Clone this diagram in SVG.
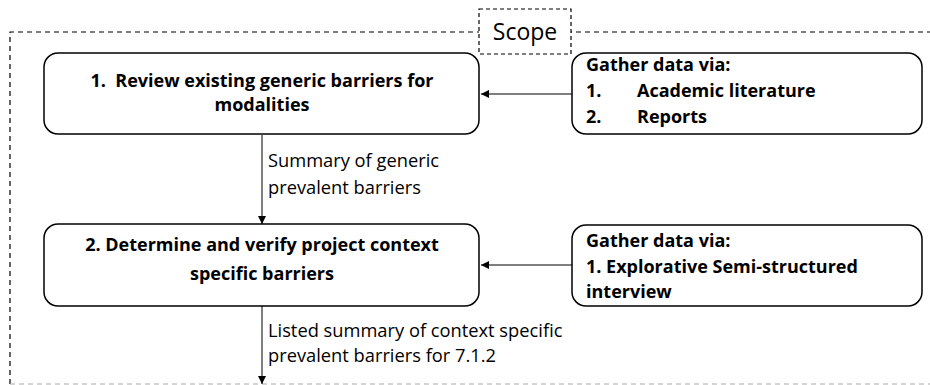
<svg xmlns="http://www.w3.org/2000/svg" width="930" height="385" viewBox="0 0 930 385">
<style>
.box{fill:#fff;stroke:#000;stroke-width:1.5}
.b{font-family:"Open Sans","DejaVu Sans",sans-serif;font-weight:bold;font-size:18px;fill:#000;white-space:pre}
.r{font-family:"Open Sans","DejaVu Sans",sans-serif;font-size:18.3px;fill:#000}
.c{stroke:#000;stroke-width:1;fill:none}
</style>
<defs>
<marker id="ah" viewBox="0 0 10 10" refX="10" refY="5" markerWidth="8" markerHeight="8" markerUnits="userSpaceOnUse" orient="auto">
<path d="M0,0 L10,5 L0,10 z" fill="#000"/>
</marker>
</defs>
<g id="scope-frame">
<path d="M10,384 V32 H940" fill="none" stroke="#000" stroke-width="1.2" stroke-dasharray="5,4"/>
<path d="M10,384 H940" fill="none" stroke="#aaa" stroke-width="1.2" stroke-dasharray="5,4"/>
</g>
<g id="scope-label">
<rect x="479" y="9" width="92" height="45" fill="#fff" stroke="#000" stroke-width="1.2" stroke-dasharray="4,3"/>
<text x="525" y="40" text-anchor="middle" font-family="'Open Sans','DejaVu Sans',sans-serif" font-size="23">Scope</text>
</g>
<g id="connectors">
<line class="c" x1="572" y1="94" x2="481" y2="94" marker-end="url(#ah)"/>
<line class="c" x1="572" y1="265" x2="481" y2="265" marker-end="url(#ah)"/>
<line class="c" x1="262" y1="135" x2="262" y2="224" marker-end="url(#ah)"/>
<line class="c" x1="262" y1="306" x2="262" y2="384" marker-end="url(#ah)"/>
<text class="r" x="268" y="167">Summary of generic</text>
<text class="r" x="268" y="194">prevalent barriers</text>
<text class="r" x="268" y="337">Listed summary of context specific</text>
<text class="r" x="268" y="362">prevalent barriers for 7.1.2</text>
</g>
<g id="step1">
<rect class="box" x="44" y="53" width="435" height="81" rx="14"/>
<text class="b" x="262" y="87" text-anchor="middle" xml:space="preserve">1.  Review existing generic barriers for</text>
<text class="b" x="262" y="111" text-anchor="middle">modalities</text>
</g>
<g id="gather1">
<rect class="box" x="572" y="53" width="350" height="81" rx="14"/>
<text class="b" x="586" y="71">Gather data via:</text>
<text class="b" x="586" y="97">1.</text>
<text class="b" x="637" y="97">Academic literature</text>
<text class="b" x="586" y="123">2.</text>
<text class="b" x="637" y="123">Reports</text>
</g>
<g id="step2">
<rect class="box" x="44" y="224" width="435" height="82" rx="14"/>
<text class="b" x="262" y="251" text-anchor="middle">2. Determine and verify project context</text>
<text class="b" x="262" y="280" text-anchor="middle">specific barriers</text>
</g>
<g id="gather2">
<rect class="box" x="572" y="225" width="350" height="81" rx="14"/>
<text class="b" x="586" y="247">Gather data via:</text>
<text class="b" x="586" y="273">1. Explorative Semi-structured</text>
<text class="b" x="586" y="298">interview</text>
</g>
</svg>
